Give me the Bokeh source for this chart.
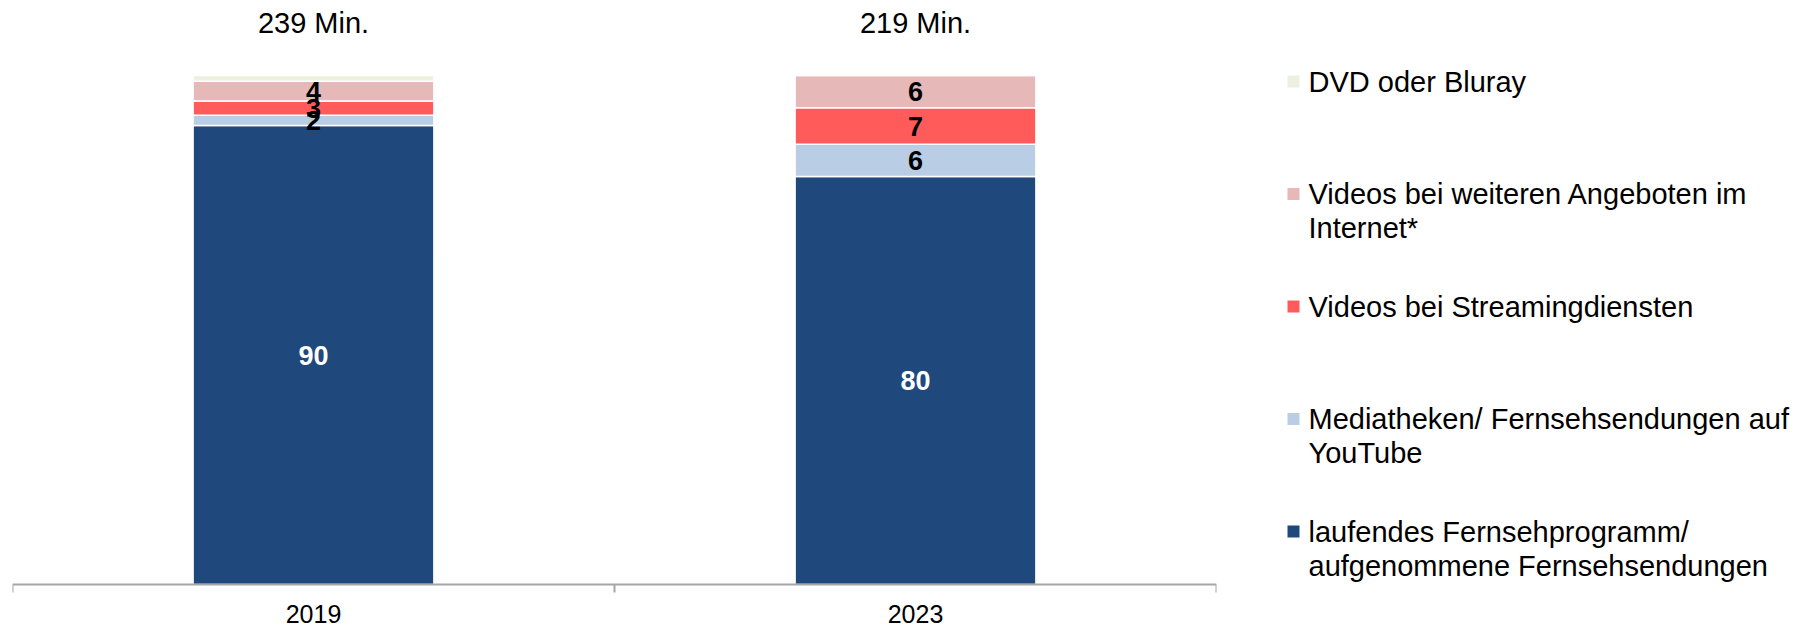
from bokeh.plotting import figure
from bokeh.models import ColumnDataSource, Range1d, FixedTicker, LinearAxis
from bokeh.layouts import row
from bokeh.core.properties import value
from bokeh.embed import file_html
from bokeh.resources import INLINE

# ---------------- data ----------------
years = ["2019", "2023"]
total_minutes = [239, 219]
series_names = [
    "laufendes Fernsehprogramm/\naufgenommene Fernsehsendungen",
    "Mediatheken/ Fernsehsendungen auf\nYouTube",
    "Videos bei Streamingdiensten",
    "Videos bei weiteren Angeboten im\nInternet*",
    "DVD oder Bluray",
]
tv_live = [90.0, 80.0]
mediatheken = [2.0, 6.3]
streaming = [2.8, 7.2]
weitere = [3.9, 6.3]
dvd = [1.1, 0.0]
series_values = [tv_live, mediatheken, streaming, weitere, dvd]
show_value_label = [True, True, True, True, False]

# ---------------- styles ----------------
colors = ["#1F497D", "#B9CDE5", "#FF5B5B", "#E6B9B8", "#EBF1DE"]
label_colors = ["white", "black", "black", "black", "black"]
FONT = "Liberation Sans"
AXIS_GREY = "#A6A6A6"

W_MAIN, W_LEG, H = 1220, 580, 627
AXIS_PX = 584            # canvas y of value 0
TOP_PX = 74              # canvas y of value 100
PX_PER_UNIT = (AXIS_PX - TOP_PX) / 100.0
Y_END = AXIS_PX / PX_PER_UNIT
Y_START = -(H - AXIS_PX) / PX_PER_UNIT
TOTAL_LABEL_Y = (AXIS_PX - 22) / PX_PER_UNIT

xs = list(range(len(years)))

# ---------------- main chart ----------------
p = figure(width=W_MAIN, height=H, x_range=Range1d(-0.5, len(years) - 0.5),
           y_range=Range1d(Y_START, Y_END), output_backend="svg",
           toolbar_location=None, x_axis_type=None, y_axis_type=None,
           min_border_left=12, min_border_right=4, min_border_top=0, min_border_bottom=0)
p.outline_line_color = None
p.background_fill_color = "white"
p.border_fill_color = "white"

data = {"x": xs}
keys = []
for i, vals in enumerate(series_values):
    k = f"s{i}"
    keys.append(k)
    data[k] = vals
src = ColumnDataSource(data)
p.vbar_stack(keys, x="x", width=0.4, color=colors, source=src,
             line_color="white", line_width=1.5)

# value labels at segment centres
lx, ly, lt, lc = [], [], [], []
for j, x in enumerate(xs):
    base = 0.0
    for i, vals in enumerate(series_values):
        v = vals[j]
        if show_value_label[i] and v > 0:
            lx.append(x)
            ly.append(base + v / 2)
            lt.append(f"{v:.0f}")
            lc.append(label_colors[i])
        base += v
p.text(x="x", y="y", text="t", text_color="c",
       source=ColumnDataSource(dict(x=lx, y=ly, t=lt, c=lc)),
       text_font=value(FONT), text_font_style="bold", text_font_size="27px",
       text_align="center", text_baseline="middle")

# totals above bars
p.text(x=xs, y=[TOTAL_LABEL_Y] * len(xs), text=[f"{m} Min." for m in total_minutes],
       text_font=value(FONT), text_font_size="29px", text_color="black",
       text_align="center", text_baseline="middle")

ax = LinearAxis(ticker=FixedTicker(ticks=xs, minor_ticks=[i - 0.5 for i in range(len(years) + 1)]),
                major_label_overrides={x: y for x, y in zip(xs, years)},
                fixed_location=0)
ax.axis_line_color = AXIS_GREY
ax.axis_line_width = 2
ax.major_tick_out = 0
ax.major_tick_in = 0
ax.minor_tick_out = 8
ax.minor_tick_in = 0
ax.minor_tick_line_color = AXIS_GREY
ax.minor_tick_line_width = 2
ax.major_label_standoff = 12
ax.major_label_text_font = FONT
ax.major_label_text_font_size = "25px"
ax.major_label_text_color = "black"
p.add_layout(ax, "below")

# ---------------- legend panel ----------------
leg = figure(width=W_LEG, height=H, x_range=Range1d(0, W_LEG), y_range=Range1d(H, 0),
             output_backend="svg", toolbar_location=None,
             x_axis_type=None, y_axis_type=None,
             min_border_left=0, min_border_right=0, min_border_top=0, min_border_bottom=0)
leg.outline_line_color = None
leg.grid.visible = False

LEG_TOP, LEG_STEP, LINE_STEP = 81, 112.5, 34
MARK_X, TEXT_X = 73, 88
order = list(range(len(series_names)))[::-1]   # legend top->bottom = reverse stacking
mx, my, mc = [], [], []
tx, ty, tt = [], [], []
for pos, i in enumerate(order):
    yc = LEG_TOP + pos * LEG_STEP
    mx.append(MARK_X); my.append(yc); mc.append(colors[i])
    for k, line in enumerate(series_names[i].split("\n")):
        tx.append(TEXT_X); ty.append(yc + k * LINE_STEP); tt.append(line)
leg.scatter(x=mx, y=my, color=mc, marker="square", size=12, line_color=None)
leg.text(x=tx, y=ty, text=tt, text_font=value(FONT), text_font_size="29px",
         text_color="black", text_align="left", text_baseline="middle")

layout = row(p, leg)
open("out.html", "w").write(file_html(layout, INLINE))
